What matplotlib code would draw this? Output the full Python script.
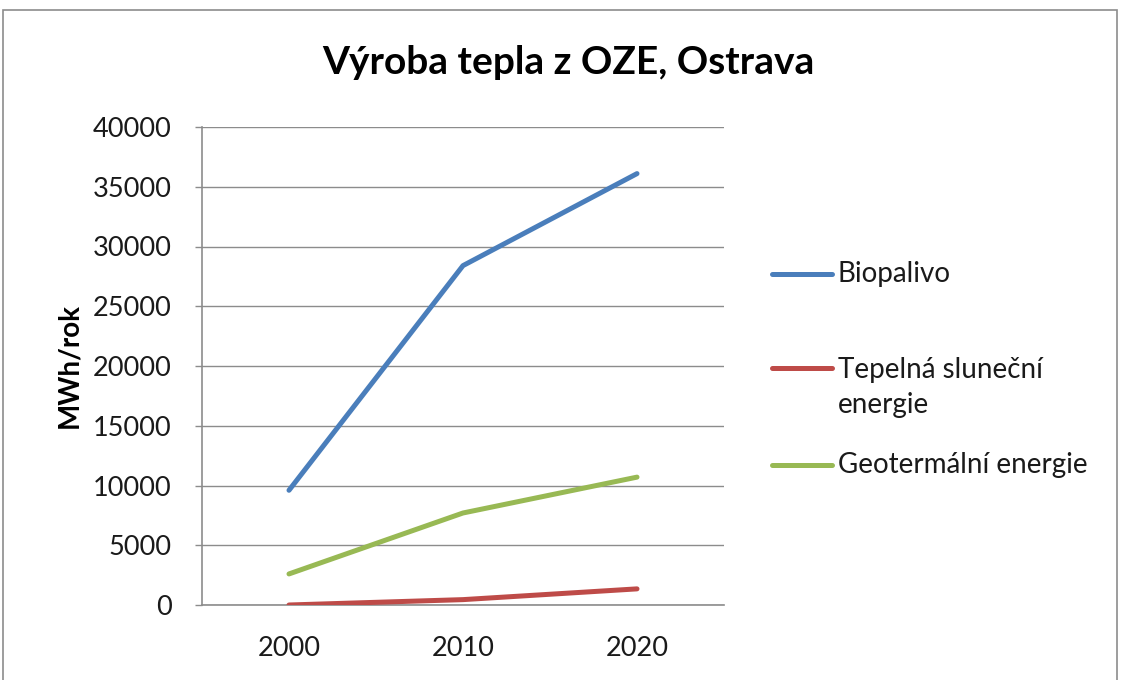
import matplotlib
matplotlib.use("Agg")
import matplotlib.pyplot as plt
from matplotlib.lines import Line2D
from matplotlib.patches import Rectangle

plt.rcParams['font.family'] = ['Lato', 'DejaVu Sans']

years = ["2000", "2010", "2020"]
biopalivo = [9600, 28400, 36100]
tepelna = [0, 450, 1350]
geotermalni = [2600, 7700, 10700]
series_names = ["Biopalivo", "Tepelná sluneční\nenergie", "Geotermální energie"]
colors = ["#4A7EBB", "#BE4B48", "#98B954"]
y_ticks = [0, 5000, 10000, 15000, 20000, 25000, 30000, 35000, 40000]

W, H = 1122, 680
fig = plt.figure(figsize=(W / 100, H / 100), dpi=100)
fig.patch.set_facecolor("white")

# chart frame
fig.add_artist(Rectangle((3 / W, -0.01), (1117 - 3) / W, 1 - 10 / H + 0.01,
                         transform=fig.transFigure, fill=False,
                         edgecolor="#8C8C8C", linewidth=1.2))

ax = fig.add_axes([202 / W, 1 - 605 / H, (724 - 202) / W, (605 - 127) / H])
x = range(len(years))
for vals, c in zip([biopalivo, tepelna, geotermalni], colors):
    ax.plot(x, vals, color=c, linewidth=3.6, solid_capstyle="round", zorder=3)

ax.set_xlim(-0.5, len(years) - 0.5)
ax.set_ylim(0, 40000)
ax.set_yticks(y_ticks)
ax.set_yticklabels([str(v) for v in y_ticks], fontsize=19.5, color="#1a1a1a")
ax.set_xticks(list(x))
ax.set_xticklabels(years, fontsize=19.5, color="#1a1a1a")
ax.tick_params(axis="x", length=0, pad=22)
ax.tick_params(axis="y", length=5, width=1, color="#8C8C8C", pad=17, direction="out")
ax.grid(axis="y", color="#8C8C8C", linewidth=1)
ax.set_axisbelow(True)
for s in ["top", "right"]:
    ax.spines[s].set_visible(False)
for s in ["left", "bottom"]:
    ax.spines[s].set_color("#8C8C8C")
    ax.spines[s].set_linewidth(1.2)

ax.set_ylabel("MWh/rok", fontsize=20, fontweight="bold")
ax.yaxis.set_label_coords(-(202 - 82) / (724 - 202), 0.5)

fig.text(568 / W, 1 - 62 / H, "Výroba tepla z OZE, Ostrava", ha="center", va="center",
         fontsize=28, fontweight="bold", color="#000000")

# legend
legend_rows = [274, 368, 465]
for name, c, yy in zip(series_names, colors, legend_rows):
    fy = 1 - yy / H
    fig.add_artist(Line2D([772 / W, 832 / W], [fy, fy], transform=fig.transFigure,
                          color=c, linewidth=3.6, solid_capstyle="round"))
    if "\n" in name:
        fig.text(838 / W, 1 - (yy - 11) / H, name, ha="left", va="top",
                 fontsize=20, color="#1a1a1a", linespacing=1.42)
    else:
        fig.text(838 / W, fy, name, ha="left", va="center",
                 fontsize=20, color="#1a1a1a")

fig.savefig("out.png", dpi=100)
